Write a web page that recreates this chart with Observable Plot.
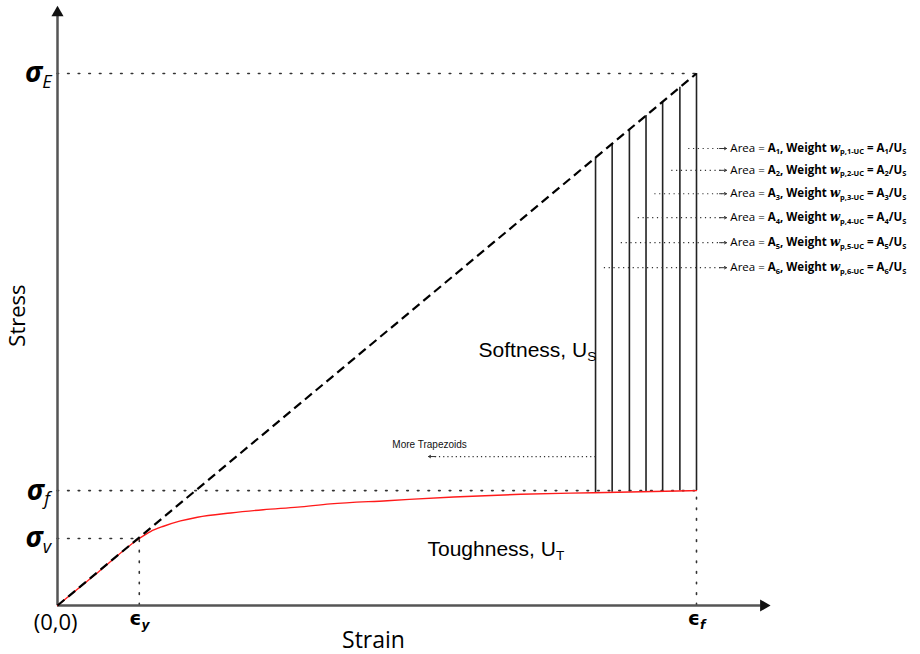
<!DOCTYPE html>
<html>
<head>
<meta charset="utf-8">
<script src="https://cdn.jsdelivr.net/npm/d3@7"></script>
<script src="https://cdn.jsdelivr.net/npm/@observablehq/plot@0.6"></script>
<style>
  body { margin: 0; background: #fff; }
  #chart svg { display: block; }
</style>
</head>
<body>
<div id="chart"></div>
<script>
// Strain is expressed as a fraction of the fracture strain, stress as a fraction of σE.
const epsY = 0.128, epsF = 1.0;
const sigY = 0.126, sigF = 0.216, sigE = 1.0;
const xAxisEnd = 1.111, yAxisEnd = 1.122;

// Measured stress–strain curve (elastic segment, then hardening up to fracture)
const curveStrain = [0, 0.064, 0.128, 0.1455, 0.166, 0.1925, 0.219, 0.271, 0.322, 0.376, 0.427, 0.516, 0.620, 0.725, 0.839, 1.0];
const curveStress = [0, 0.063, 0.126, 0.139, 0.149, 0.159, 0.166, 0.174, 0.180, 0.185, 0.191, 0.197, 0.204, 0.209, 0.212, 0.216];

// Trapezoid boundaries between the curve and the elastic extension line
const sliceStrain = [0.842, 0.868, 0.895, 0.921, 0.947, 0.974, 1.0];
const sliceBase   = [0.212, 0.213, 0.2135, 0.214, 0.2145, 0.215, 0.216];
const sliceTop    = [0.842, 0.868, 0.895, 0.921, 0.947, 0.974, 1.0];

// Per-trapezoid weight annotations (top row = last trapezoid)
const areaIndex = [1, 2, 3, 4, 5, 6];
const areaRowStress = [0.859, 0.818, 0.774, 0.729, 0.682, 0.635];

const curve = curveStrain.map((x, i) => ({x, y: curveStress[i]}));
const slices = sliceStrain.map((x, i) => ({x, y1: sliceBase[i], y2: sliceTop[i]}));
// each annotation starts at the middle of its trapezoid, counted from the right
const rows = areaIndex.map((k, i) => {
  const j = sliceStrain.length - 1 - i;
  return {
    k,
    from: (sliceStrain[j] + sliceStrain[j - 1]) / 2,
    y: areaRowStress[i],
    label: `Area = *A_{${k}}, Weight ^w^_{p,${k}-UC} = A_{${k}}/U_{S}*`
  };
});

const labelFont = "Open Sans, DejaVu Sans, sans-serif";
const arialFont = "Liberation Sans, Arial, sans-serif";
const dotted = {stroke: "#333", strokeWidth: 1.6, strokeDasharray: "1.6,9", strokeLinecap: "round"};
const one = [0];

const chart = Plot.plot({
  width: 920,
  height: 654,
  x: {domain: [0, 1], range: [57, 696], axis: null},
  y: {domain: [0, 1], range: [605, 73], axis: null},
  marks: [
    // reference lines for the marked stresses and strains
    Plot.ruleY([sigE], {x1: 0, x2: epsF, ...dotted}),
    Plot.ruleY([sigF], {x1: 0, x2: epsF, ...dotted}),
    Plot.ruleY([sigY], {x1: 0, x2: epsY, ...dotted}),
    Plot.ruleX([epsY], {y1: 0, y2: sigY, ...dotted}),
    Plot.ruleX([epsF], {y1: 0, y2: sigF, ...dotted}),

    // axes with arrowheads
    Plot.ruleX(one, {x: 0, y1: 0, y2: yAxisEnd - 0.01, stroke: "#555", strokeWidth: 2.5}),
    Plot.ruleY(one, {y: 0, x1: 0, x2: xAxisEnd - 0.01, stroke: "#555", strokeWidth: 2.5}),
    Plot.dot(one, {x: 0, y: yAxisEnd - 0.008, symbol: "triangle", r: 4.5, fill: "#111", stroke: "none"}),
    Plot.dot(one, {x: xAxisEnd - 0.006, y: 0, symbol: "triangle", r: 4.5, rotate: 90, fill: "#111", stroke: "none"}),

    // trapezoid slices
    Plot.ruleX(slices, {x: "x", y1: "y1", y2: "y2", stroke: "#222", strokeWidth: 1.6}),

    // stress–strain curve and elastic extension
    Plot.line(curve, {x: "x", y: "y", stroke: "#ff1a1a", strokeWidth: 1.4, curve: "monotone-x"}),
    Plot.link(one, {x1: 0, y1: 0, x2: epsF, y2: sigE, stroke: "#000", strokeWidth: 2.2, strokeDasharray: "9,5"}),

    // weight annotations
    Plot.link(rows, {x1: "from", x2: 1.040, y1: "y", y2: "y", stroke: "#333", strokeWidth: 1.2, strokeDasharray: "1.2,3.6"}),
    Plot.arrow(rows, {x1: 1.036, x2: 1.047, y1: "y", y2: "y", stroke: "#333", strokeWidth: 1, headLength: 6, bend: 0}),
    Plot.text(rows, {x: 1.053, y: "y", text: "label", textAnchor: "start", fontSize: 11.5, fontFamily: labelFont, fill: "#000"}),

    // "More Trapezoids" pointer
    Plot.link(one, {x1: sliceStrain[0], x2: 0.586, y1: 0.280, y2: 0.280, stroke: "#333", strokeWidth: 1.2, strokeDasharray: "1.2,3"}),
    Plot.arrow(one, {x1: 0.592, x2: 0.5806, y1: 0.280, y2: 0.280, stroke: "#333", strokeWidth: 1, headLength: 6, bend: 0}),
    Plot.text(["More Trapezoids"], {x: 0.524, y: 0.3026, text: d => d, textAnchor: "start", fontSize: 10, fontFamily: arialFont, fill: "#111"}),

    // region labels
    Plot.text(["Softness, U_{S}"], {x: 0.659, y: 0.480, text: d => d, textAnchor: "start", fontSize: 21, fontFamily: arialFont, fill: "#000"}),
    Plot.text(["Toughness, U_{T}"], {x: 0.579, y: 0.105, text: d => d, textAnchor: "start", fontSize: 21, fontFamily: arialFont, fill: "#000"}),

    // stress labels on the vertical axis
    Plot.text(["*~σ~*_{~E~}"], {x: -0.03, y: sigE, text: d => d, fontSize: 28, fontFamily: labelFont, fill: "#000"}),
    Plot.text(["*~σ~*_{~f~}"], {x: -0.03, y: sigF, text: d => d, fontSize: 28, fontFamily: labelFont, fill: "#000"}),
    Plot.text(["*~σ~*_{~v~}"], {x: -0.03, y: sigY, text: d => d, fontSize: 28, fontFamily: labelFont, fill: "#000"}),

    // strain labels on the horizontal axis
    Plot.text(["(0,0)"], {x: -0.003, y: -0.032, text: d => d, fontSize: 22, fontFamily: labelFont, fill: "#000"}),
    Plot.text(["*ϵ*_{*~y~*}"], {x: epsY, y: -0.026, text: d => d, fontSize: 19, fontFamily: "DejaVu Sans, sans-serif", fill: "#000"}),
    Plot.text(["*ϵ*_{*~f~*}"], {x: epsF, y: -0.026, text: d => d, fontSize: 19, fontFamily: "DejaVu Sans, sans-serif", fill: "#000"}),

    // axis titles
    Plot.text(["Stress"], {x: -0.062, y: 0.545, text: d => d, rotate: -90, fontSize: 22, fontFamily: labelFont, fill: "#000"}),
    Plot.text(["Strain"], {x: 0.4945, y: -0.066, text: d => d, fontSize: 23, fontFamily: labelFont, fill: "#000"})
  ]
});

// Turn the light markup in labels into tspans:
// *…* bold, ~…~ italic, ^…^ script-style letter, _{…} subscript.
function richText(svg) {
  const NS = "http://www.w3.org/2000/svg";
  for (const t of svg.querySelectorAll("text")) {
    const src = t.textContent;
    if (!/[*~^]|_\{/.test(src)) continue;
    const segs = [];
    let bold = false, italic = false, script = false, sub = false, buf = "";
    const flush = () => { if (buf) segs.push({text: buf, bold, italic, script, sub}); buf = ""; };
    for (let i = 0; i < src.length; i++) {
      const c = src[i];
      if (c === "*") { flush(); bold = !bold; }
      else if (c === "~") { flush(); italic = !italic; }
      else if (c === "^") { flush(); script = !script; }
      else if (c === "_" && src[i + 1] === "{") { flush(); sub = true; i++; }
      else if (c === "}" && sub) { flush(); sub = false; }
      else buf += c;
    }
    flush();
    t.textContent = "";
    let wasSub = false;
    for (const s of segs) {
      const ts = document.createElementNS(NS, "tspan");
      ts.textContent = s.text;
      if (s.bold) ts.setAttribute("font-weight", "bold");
      if (s.italic) ts.setAttribute("font-style", "italic");
      if (s.script) {
        ts.setAttribute("font-family", "DejaVu Serif, serif");
        ts.setAttribute("font-style", "italic");
        ts.setAttribute("font-size", "1.05em");
      }
      if (s.sub) {
        ts.setAttribute("font-size", "0.65em");
        if (!wasSub) ts.setAttribute("dy", "0.3em");
      } else if (wasSub) {
        ts.setAttribute("dy", "-0.195em");
      }
      t.appendChild(ts);
      wasSub = s.sub;
    }
  }
}
richText(chart);

document.getElementById("chart").appendChild(chart);
</script>
</body>
</html>
